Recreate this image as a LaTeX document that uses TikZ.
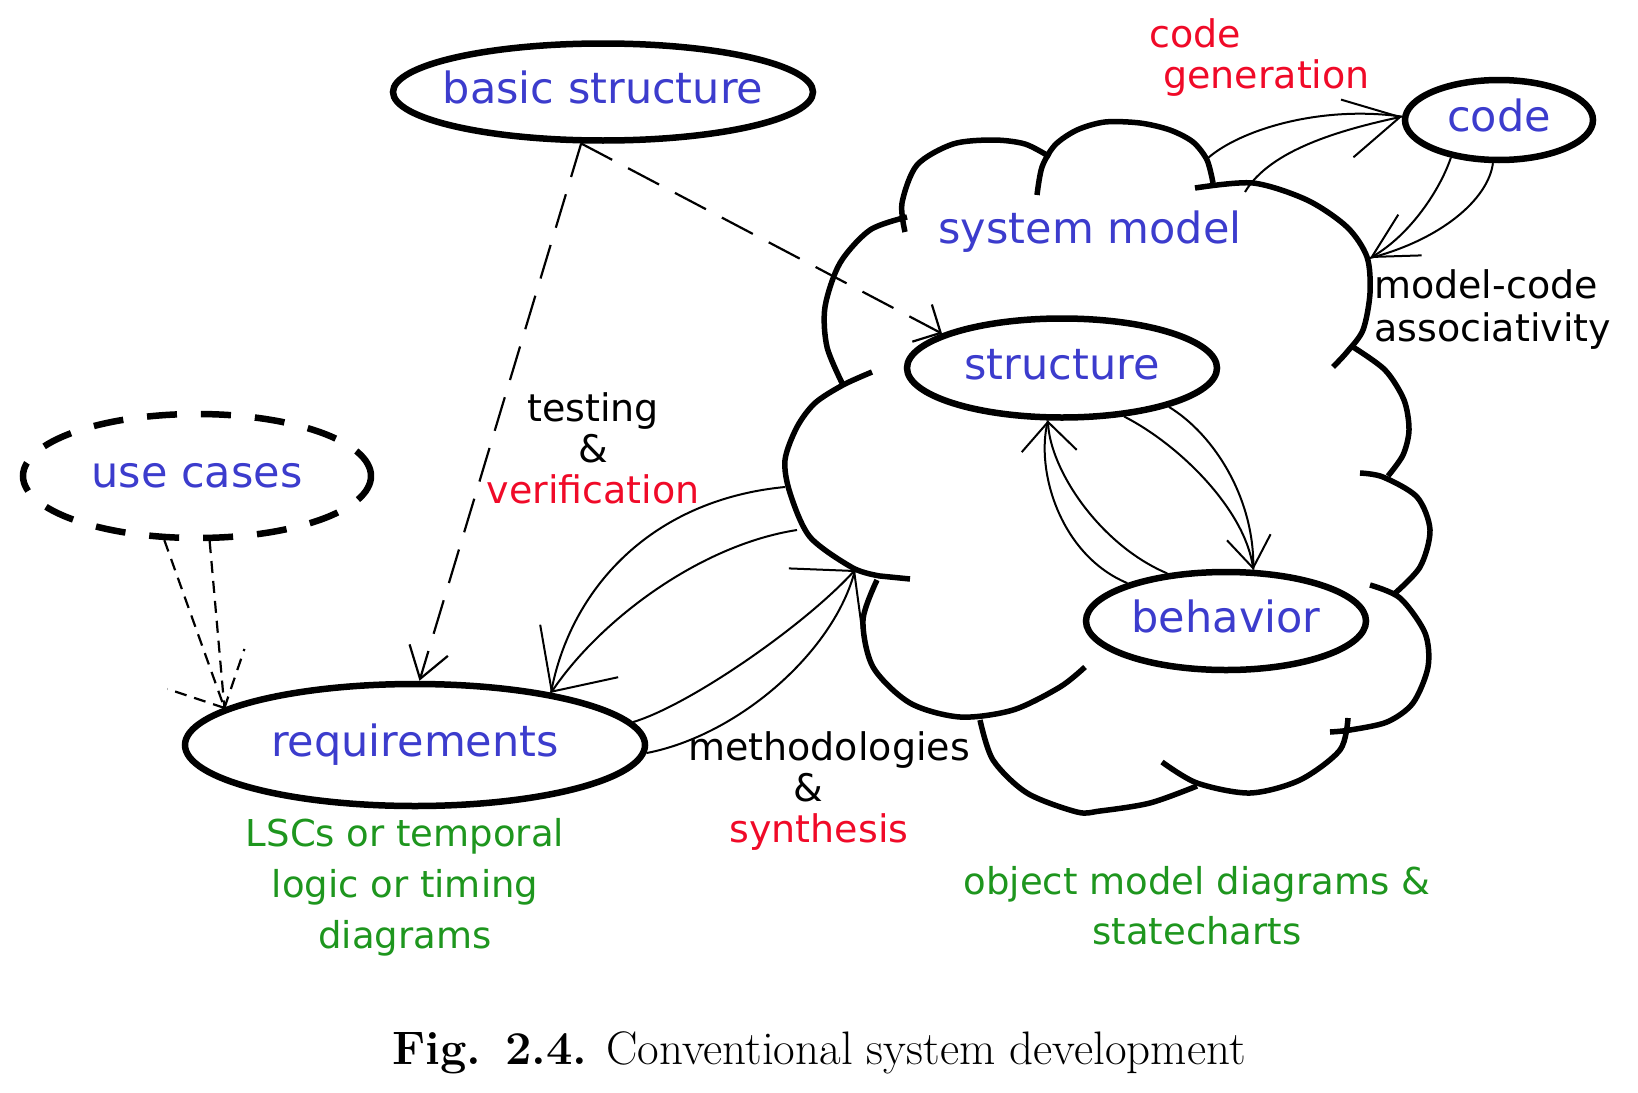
\documentclass[tikz,border=0pt]{standalone}
\usepackage{fontspec}
\newfontfamily\dvs{DejaVu Sans}
\usetikzlibrary{arrows.meta,shapes.geometric}
\definecolor{lblue}{RGB}{60,60,205}
\definecolor{lred}{RGB}{240,10,40}
\definecolor{lgreen}{RGB}{30,150,30}
\begin{document}
\begin{tikzpicture}[x=1pt,y=-1pt,
  ell/.style={ellipse, draw, line width=6.5pt, inner sep=0pt, text=lblue,
    font=\dvs\fontsize{43}{46}\selectfont, text height=32pt, text depth=9pt},
  cloudline/.style={line width=5.5pt},
  conn/.style={line width=2pt},
  dconn/.style={line width=2.2pt, dash pattern=on 35pt off 18pt},
  sconn/.style={line width=2.2pt, dash pattern=on 12pt off 8pt},
  blabel/.style={text=lblue, font=\dvs\fontsize{43}{46}\selectfont, text height=32pt, text depth=9pt, inner sep=0pt},
  note/.style={font=\dvs\fontsize{38}{41}\selectfont, inner sep=0pt},
  gnote/.style={font=\dvs\fontsize{37}{51}\selectfont, inner sep=0pt, text=lgreen, align=center}
]
\fill[white] (0,0) rectangle (1638,1092);
\useasboundingbox (0,0) rectangle (1638,1092);

% ---------- ellipse nodes ----------
\node[ell, minimum width=420pt, minimum height=97pt] (basic) at (603,92) {\makebox[0pt]{basic structure}};
\node[ell, minimum width=348pt, minimum height=124pt, dash pattern=on 30pt off 24pt] (uses) at (197,476) {\makebox[0pt]{use cases}};
\node[ell, minimum width=460pt, minimum height=122pt] (req) at (415,745) {\makebox[0pt]{requirements}};
\node[ell, minimum width=188pt, minimum height=80pt] (code) at (1499,120) {\makebox[0pt]{code}};
\node[ell, minimum width=310pt, minimum height=99pt] (struct) at (1062,368) {\makebox[0pt]{structure}};
\node[ell, minimum width=280pt, minimum height=98pt] (behav) at (1226,621) {\makebox[0pt]{behavior}};

% ---------- cloud (system model) ----------
\draw[cloudline] plot[smooth] coordinates {(905,232) (902,203) (917,165) (953,144) (993,140) (1025,144) (1050,157)};
\draw[cloudline] plot[smooth] coordinates {(1037,195) (1042,167) (1055,145) (1077,130) (1105,122) (1140,123) (1170,130) (1193,142) (1207,160) (1213,183)};
\draw[cloudline] plot[smooth] coordinates {(1195,188) (1253,183) (1307,200) (1347,227) (1367,257) (1370,293) (1363,330) (1347,352) (1333,367)};
\draw[cloudline] plot[smooth] coordinates {(1353,347) (1385,370) (1404,400) (1409,430) (1403,455) (1388,476)};
\draw[cloudline] plot[smooth] coordinates {(1360,473) (1383,477) (1417,497) (1430,530) (1420,567) (1393,595)};
\draw[cloudline] plot[smooth] coordinates {(1370,585) (1400,598) (1425,633) (1428,667) (1413,703) (1387,722) (1350,730) (1330,732)};
\draw[cloudline] plot[smooth] coordinates {(1348,718) (1340,750) (1300,780) (1250,793) (1197,783) (1162,762)};
\draw[cloudline] plot[smooth] coordinates {(1197,786) (1150,803) (1100,811) (1077,812) (1027,793) (993,760) (980,720)};
\draw[cloudline] plot[smooth] coordinates {(877,580) (863,620) (873,667) (910,703) (960,717) (1013,710) (1060,687) (1085,667)};
\draw[cloudline] plot[smooth] coordinates {(872,372) (843,385) (815,403) (797,427) (785,460) (790,493) (810,537) (853,568) (880,576)} -- (910,579);
\draw[cloudline] plot[smooth] coordinates {(907,217) (870,230) (840,263) (825,307) (827,347) (843,385)};

\node[blabel] (sysmodel) at (1090,232) {system model};

% connector points on the cloud
\coordinate (ctest1) at (785,487);
\coordinate (ctest2) at (797,530);
\coordinate (cmeth) at (855,570);
\coordinate (cgen1) at (1208,158);
\coordinate (cgen2) at (1245,192);
\coordinate (cmc) at (1370,258);

% ---------- connectors ----------
% basic structure -> requirements / structure
\draw[dconn, -{Straight Barb[length=30pt,width=40pt]}] (basic.247) -- (req.86);
\draw[dconn, -{Straight Barb[length=21pt,width=42pt]}] (basic.247) -- (struct.164);

% use cases -> requirements
\draw[sconn] (uses.243) -- (req.169);
\draw[sconn] (uses.281) -- (req.169);
\draw[sconn] (req.169) -- ++(-57,-19);
\draw[sconn] (req.169) -- ++(20,-59);

% testing & verification
\draw[conn] (ctest1) .. controls (650,500) and (570,590) .. (req.21);
\draw[conn, -{Straight Barb[length=49pt,width=94pt]}] (ctest2) .. controls (700,545) and (600,620) .. (req.21);

% methodologies & synthesis
\draw[conn, -{Straight Barb[length=42pt,width=100pt]}] (req.6) .. controls (690,705) and (805,625) .. (cmeth);
\draw[conn] (req.-2) .. controls (740,735) and (835,650) .. (cmeth);

% code generation
\draw[conn] (cgen1) .. controls (1240,130) and (1320,105) .. (code.178);
\draw[conn, -{Straight Barb[length=54pt,width=59pt]}] (cgen2) .. controls (1270,150) and (1340,130) .. (code.178);

% model-code associativity
\draw[conn, -{Straight Barb[length=44pt,width=47pt]}] (code.218) .. controls (1440,190) and (1410,235) .. (cmc);
\draw[conn] (code.262) .. controls (1488,200) and (1440,240) .. (cmc);

% structure -> behavior
\draw[conn, -{Straight Barb[length=31pt,width=44pt]}] (struct.322) .. controls (1180,445) and (1245,510) .. (behav.62);
\draw[conn] (struct.340) .. controls (1215,435) and (1255,500) .. (behav.62);

% behavior -> structure
\draw[conn] (behav.159) .. controls (1060,555) and (1035,470) .. (struct.255);
\draw[conn, -{Straight Barb[length=29pt,width=55pt]}] (behav.141) .. controls (1100,545) and (1050,470) .. (struct.255);

% ---------- labels ----------
\node[note, align=center] (testlbl) at (593,448) {testing\\\&\\\textcolor{lred}{verification}};
\node[note, align=center] (methlbl) at (829,791) {methodologies\\\hspace*{-42pt}\&\\\hspace*{-20pt}\textcolor{lred}{synthesis}};
\node[note, align=left, anchor=west, text=lred] (genlbl) at (1149,58) {code\\\hspace*{14pt}generation};
\node[note, align=left, anchor=west, font=\dvs\fontsize{38}{43}\selectfont] (mclbl) at (1374,310) {model-code\\associativity};
\node[gnote] (reqnote) at (405,887) {LSCs or temporal\\logic or timing\\diagrams};
\node[gnote, font=\dvs\fontsize{37}{50}\selectfont] (smnote) at (1197,906) {object model diagrams \&\\statecharts};

% caption
\node[anchor=base, inner sep=0pt, font=\fontsize{47}{50}\selectfont] (caption) at (819,1064) {\textbf{Fig. 2.4.} Conventional system development};
\end{tikzpicture}
\end{document}
